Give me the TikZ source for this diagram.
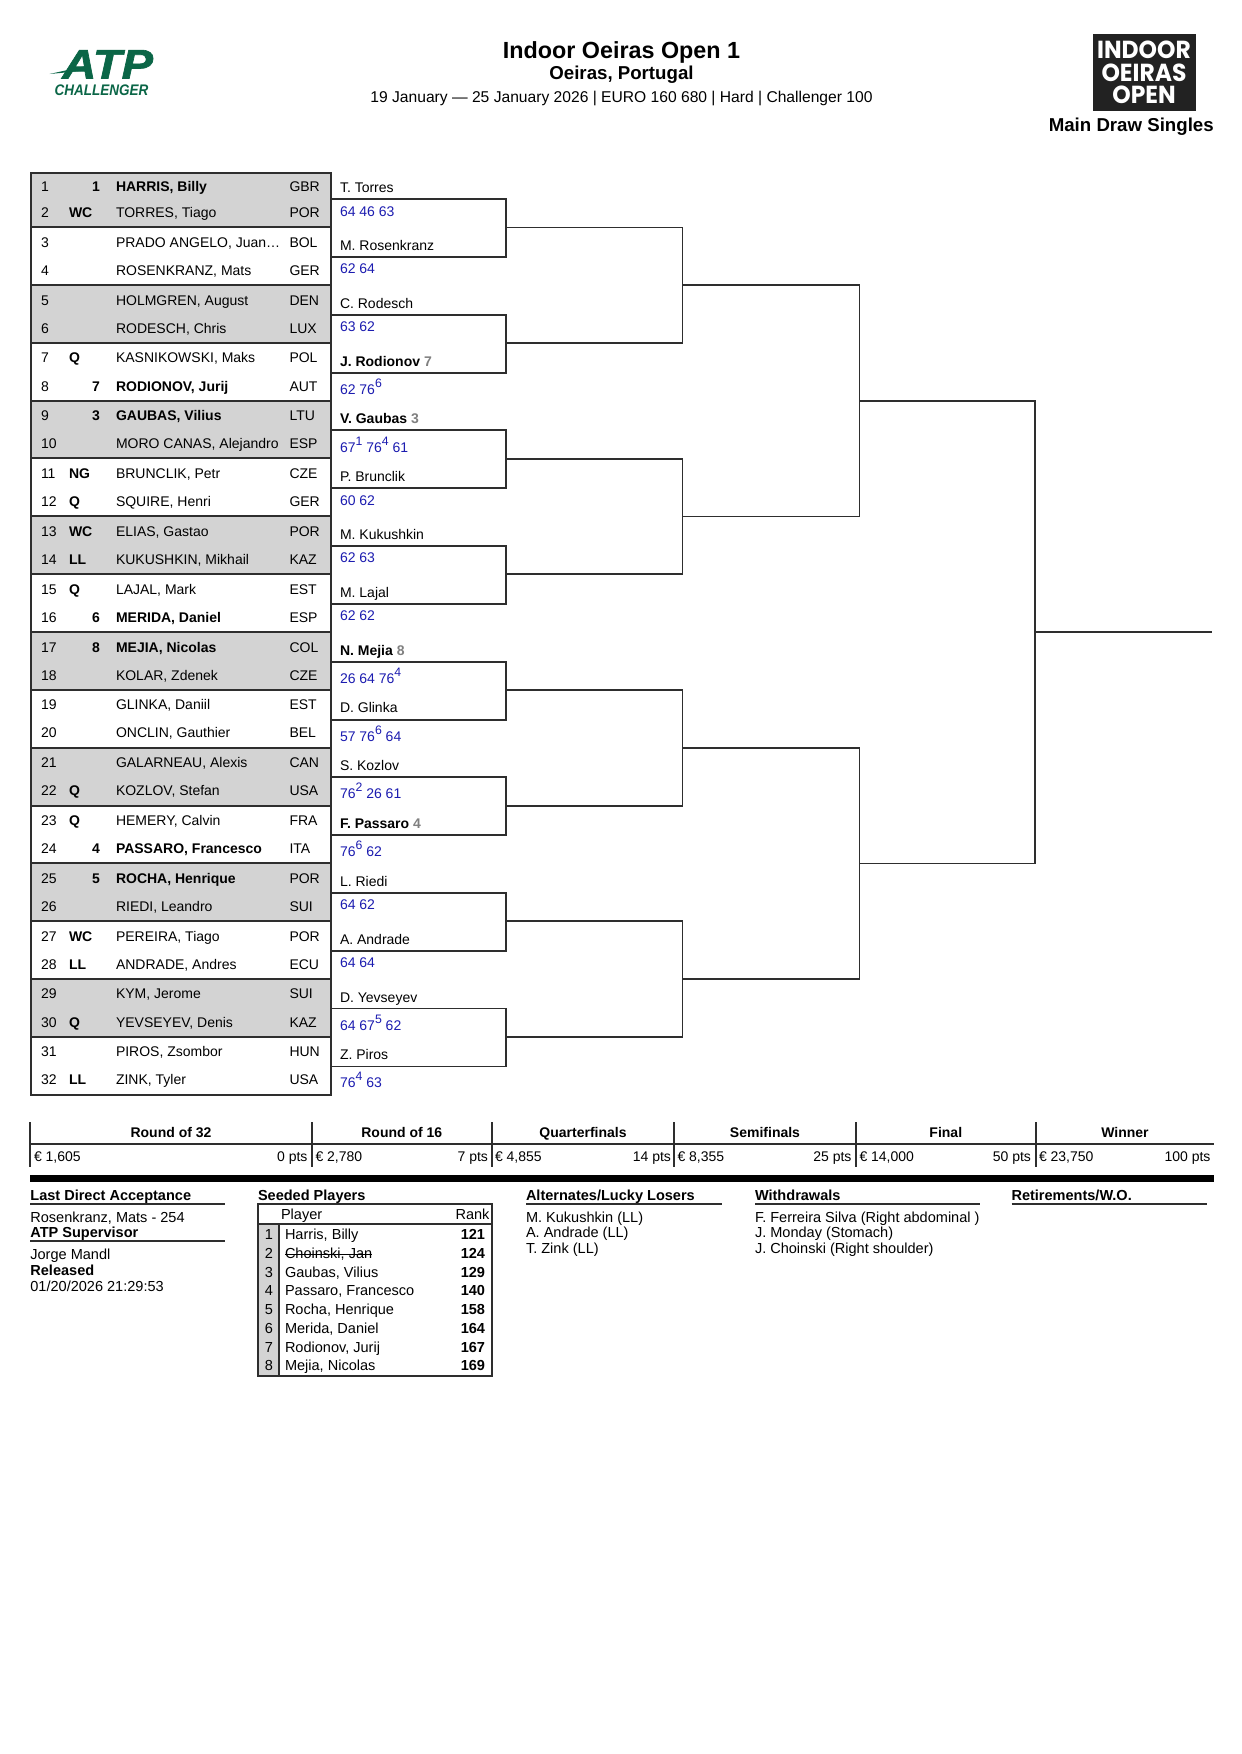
\documentclass[tikz,border=0pt]{standalone}
\usepackage{fontspec}
\setmainfont{Liberation Sans}
\newfontfamily\logofont{Poppins}
\newfontfamily\atpfont[BoldItalicFeatures={FakeBold=1.5}]{Liberation Sans}
\usetikzlibrary{calc}
\definecolor{rowgray}{HTML}{D3D3D3}
\definecolor{linedark}{HTML}{2E2E2E}
\definecolor{scoreblue}{HTML}{1C1CB0}
\definecolor{atpgreen}{HTML}{0B6647}
\definecolor{seedgray}{HTML}{808080}
\definecolor{logobg}{HTML}{222222}
\tikzset{
  txt/.style={inner sep=0pt,outer sep=0pt,font=\fontsize{10.5}{12}\selectfont,text=black},
  big/.style={inner sep=0pt,outer sep=0pt,font=\fontsize{10.9}{12}\selectfont,text=black},
  lw/.style={txt,anchor=base west,yshift=-3.75pt},
  lr/.style={txt,anchor=base east,yshift=-3.75pt},
  bw/.style={big,anchor=base west,yshift=-3.9pt},
  be/.style={big,anchor=base east,yshift=-3.9pt},
  bc/.style={big,anchor=base,yshift=-3.9pt},
  nameT/.style={txt,anchor=base west},
  scoreT/.style={txt,anchor=base west,text=scoreblue},
  bline/.style={draw=linedark,line width=1.35pt,line cap=rect},
  thin rule/.style={draw=linedark,line width=1.5pt},
  logotxt/.style={inner sep=0pt,text=white,xscale=.95,font=\logofont\bfseries\fontsize{18.5}{20}\selectfont},
}
\newcommand{\su}[1]{\raisebox{5.2pt}{\fontsize{9.2}{10}\selectfont #1}}
\newcommand{\sd}[1]{{\color{seedgray}#1}}
\newsavebox{\strbox}
\newcommand{\strk}[1]{\sbox{\strbox}{#1}\rlap{\usebox{\strbox}}\raisebox{0.27em}{\rule{\wd\strbox}{0.6pt}}}
\newcommand{\drow}[6]{%
  \node[lw] (num#2) at (41,#1) {#2};
  \if\relax\detokenize{#3}\relax\else\node[lw,font=\fontsize{10.5}{12}\selectfont\bfseries] (ent#2) at (69,#1) {#3};\fi
  \if\relax\detokenize{#4}\relax\else\node[lr,font=\fontsize{10.5}{12}\selectfont\bfseries] (seed#2) at (100,#1) {#4};\fi
  \node[lw] (name#2) at (116,#1) {#5};
  \node[lw] (ctry#2) at (289.5,#1) {#6};
}
\begin{document}
\begin{tikzpicture}[x=0.75pt,y=-0.75pt]
\useasboundingbox (0,0) rectangle (1242,1754);
\fill[white] (0,0) rectangle (1242,1754);
% header
\node[inner sep=0pt,anchor=base,font=\fontsize{17.5}{20}\selectfont\bfseries] (title) at (621.5,58.5) {Indoor Oeiras Open 1};
\node[inner sep=0pt,anchor=base,font=\fontsize{14}{16}\selectfont\bfseries] (place) at (621.5,79) {Oeiras, Portugal};
\node[inner sep=0pt,anchor=base,font=\fontsize{11.72}{15}\selectfont] (dates) at (621.5,102) {19 January — 25 January 2026 | EURO 160 680 | Hard | Challenger 100};
\node[inner sep=0pt,anchor=base east,font=\fontsize{14}{16}\selectfont\bfseries] (draw) at (1214,131) {Main Draw Singles};
% logos
\fill[logobg] (1093,33.5) rectangle (1196,110.7);
\node[logotxt] (l1) at (1144,49.5) {INDOOR};
\node[logotxt] (l2) at (1144,72.5) {OEIRAS};
\node[logotxt] (l3) at (1144,95) {OPEN};
\node[inner sep=0pt,anchor=base west,text=atpgreen,xscale=1.14,font=\atpfont\fontsize{31}{32}\selectfont\bfseries\itshape] (atp) at (62,78.5) {ATP};
\fill[atpgreen] (49.5,74) -- (88,65.5) -- (86,70.5) -- cycle;
\node[inner sep=0pt,anchor=base west,text=atpgreen,xscale=.88,font=\fontsize{11.5}{14}\selectfont\bfseries\itshape] (chal) at (54.5,95) {CHALLENGER};
% table fills
\fill[rowgray] (30.5,172.7) rectangle (331,227);
\foreach \k in {1,3,...,13}{
  \pgfmathsetmacro\ya{227+57.85*\k}
  \pgfmathsetmacro\yb{227+57.85*(\k+1)}
  \fill[rowgray] (30.5,\ya) rectangle (331,\yb);
}
\foreach \k in {0,...,14}{
  \pgfmathsetmacro\ya{227+57.85*\k}
  \draw[thin rule] (30.5,\ya) -- (331,\ya);
}
\draw[thin rule] (30.5,172.7) rectangle (331,1094.8);
% rows
\drow{186}{1}{}{1}{\bfseries HARRIS, Billy}{GBR}
\drow{212}{2}{WC}{}{TORRES, Tiago}{POR}
\drow{242}{3}{}{}{PRADO ANGELO, Juan…}{BOL}
\drow{270}{4}{}{}{ROSENKRANZ, Mats}{GER}
\drow{300}{5}{}{}{HOLMGREN, August}{DEN}
\drow{328}{6}{}{}{RODESCH, Chris}{LUX}
\drow{357}{7}{Q}{}{KASNIKOWSKI, Maks}{POL}
\drow{386}{8}{}{7}{\bfseries RODIONOV, Jurij}{AUT}
\drow{415}{9}{}{3}{\bfseries GAUBAS, Vilius}{LTU}
\drow{443}{10}{}{}{MORO CANAS, Alejandro}{ESP}
\drow{473}{11}{NG}{}{BRUNCLIK, Petr}{CZE}
\drow{501}{12}{Q}{}{SQUIRE, Henri}{GER}
\drow{531}{13}{WC}{}{ELIAS, Gastao}{POR}
\drow{559}{14}{LL}{}{KUKUSHKIN, Mikhail}{KAZ}
\drow{589}{15}{Q}{}{LAJAL, Mark}{EST}
\drow{617}{16}{}{6}{\bfseries MERIDA, Daniel}{ESP}
\drow{647}{17}{}{8}{\bfseries MEJIA, Nicolas}{COL}
\drow{675}{18}{}{}{KOLAR, Zdenek}{CZE}
\drow{704}{19}{}{}{GLINKA, Daniil}{EST}
\drow{732}{20}{}{}{ONCLIN, Gauthier}{BEL}
\drow{762}{21}{}{}{GALARNEAU, Alexis}{CAN}
\drow{790}{22}{Q}{}{KOZLOV, Stefan}{USA}
\drow{820}{23}{Q}{}{HEMERY, Calvin}{FRA}
\drow{848}{24}{}{4}{\bfseries PASSARO, Francesco}{ITA}
\drow{878}{25}{}{5}{\bfseries ROCHA, Henrique}{POR}
\drow{906}{26}{}{}{RIEDI, Leandro}{SUI}
\drow{936}{27}{WC}{}{PEREIRA, Tiago}{POR}
\drow{964}{28}{LL}{}{ANDRADE, Andres}{ECU}
\drow{993}{29}{}{}{KYM, Jerome}{SUI}
\drow{1022}{30}{Q}{}{YEVSEYEV, Denis}{KAZ}
\drow{1051}{31}{}{}{PIROS, Zsombor}{HUN}
\drow{1079}{32}{LL}{}{ZINK, Tyler}{USA}
% bracket coordinates and first-round boxes
\foreach \i in {0,...,7}{
  \pgfmathsetmacro\tt{199+115.65*\i}
  \pgfmathsetmacro\bb{\tt+58}
  \pgfmathsetmacro\mm{\tt+28.4}
  \coordinate (bt\i) at (331,\tt);
  \coordinate (btr\i) at (506,\tt);
  \coordinate (brb\i) at (506,\bb);
  \coordinate (bb\i) at (331,\bb);
  \coordinate (bm\i) at (506,\mm);
  \draw[bline] (bt\i) -- (btr\i) -- (brb\i) -- (bb\i);
}
\coordinate (c2) at (682.5,0);
\coordinate (c3) at (859.5,0);
\coordinate (c4) at (1034.8,0);
\coordinate (c5) at (1211,0);
\foreach \a/\c/\n in {0/1/0,2/3/1,4/5/2,6/7/3}{
  \draw[bline] (bm\a) -- (bm\a -| c2) -- (bm\c -| c2) -- (bm\c);
  \coordinate (sm\n) at ($(bm\a -| c2)!.5!(bm\c -| c2)$);
}
\foreach \a/\c/\n in {0/1/0,2/3/1}{
  \draw[bline] (sm\a) -- (sm\a -| c3) -- (sm\c -| c3) -- (sm\c);
  \coordinate (qm\n) at ($(sm\a -| c3)!.5!(sm\c -| c3)$);
}
\draw[bline] (qm0) -- (qm0 -| c4) -- (qm1 -| c4) -- (qm1);
\coordinate (fm) at ($(qm0 -| c4)!.5!(qm1 -| c4)$);
\draw[bline] (fm) -- (fm -| c5);
% winners and scores
\node[nameT] (w1) at (340,192) {T. Torres};
\node[scoreT] (s1) at (340,216) {64 46 63};
\node[nameT] (w2) at (340,250) {M. Rosenkranz};
\node[scoreT] (s2) at (340,273.5) {62 64};
\node[nameT] (w3) at (340,308.5) {C. Rodesch};
\node[scoreT] (s3) at (340,331.5) {63 62};
\node[nameT] (w4) at (340,366.5) {\textbf{J. Rodionov} \sd{\textbf{7}}};
\node[scoreT] (s4) at (340,394.5) {62 76\su{6}};
\node[nameT] (w5) at (340,423.5) {\textbf{V. Gaubas} \sd{\textbf{3}}};
\node[scoreT] (s5) at (340,452) {67\su{1} 76\su{4} 61};
\node[nameT] (w6) at (340,481.5) {P. Brunclik};
\node[scoreT] (s6) at (340,505) {60 62};
\node[nameT] (w7) at (340,539.5) {M. Kukushkin};
\node[scoreT] (s7) at (340,562.5) {62 63};
\node[nameT] (w8) at (340,597.5) {M. Lajal};
\node[scoreT] (s8) at (340,620.5) {62 62};
\node[nameT] (w9) at (340,655) {\textbf{N. Mejia} \sd{\textbf{8}}};
\node[scoreT] (s9) at (340,683.3) {26 64 76\su{4}};
\node[nameT] (w10) at (340,712.5) {D. Glinka};
\node[scoreT] (s10) at (340,741) {57 76\su{6} 64};
\node[nameT] (w11) at (340,770.5) {S. Kozlov};
\node[scoreT] (s11) at (340,798.5) {76\su{2} 26 61};
\node[nameT] (w12) at (340,828.5) {\textbf{F. Passaro} \sd{\textbf{4}}};
\node[scoreT] (s12) at (340,856.5) {76\su{6} 62};
\node[nameT] (w13) at (340,886.5) {L. Riedi};
\node[scoreT] (s13) at (340,909) {64 62};
\node[nameT] (w14) at (340,944) {A. Andrade};
\node[scoreT] (s14) at (340,967) {64 64};
\node[nameT] (w15) at (340,1002) {D. Yevseyev};
\node[scoreT] (s15) at (340,1030) {64 67\su{5} 62};
\node[nameT] (w16) at (340,1059.5) {Z. Piros};
\node[scoreT] (s16) at (340,1087.5) {76\su{4} 63};
% prize table
\draw[thin rule] (30.4,1144) -- (1214,1144);
\foreach \x in {30.4,311.9,491.7,674.4,855.7,1035.9}{
  \draw[thin rule] (\x,1122) -- (\x,1167);
}
\fill[black] (30.4,1175) rectangle (1214,1181.7);
\foreach \cx/\lab/\m in {171/Round of 32/r32,401.8/Round of 16/r16,583/Quarterfinals/qf,765/Semifinals/sf,945.8/Final/fin,1125/Winner/win}{
  \node[lw,anchor=base,font=\fontsize{10.5}{12}\selectfont\bfseries] (h\m) at (\cx,1132) {\lab};
}
\foreach \x/\lab/\rx/\p/\m in {34/€ 1{,}605/307.5/0 pts/a,315.5/€ 2{,}780/488/7 pts/b,495/€ 4{,}855/671/14 pts/c,677.5/€ 8{,}355/851.5/25 pts/d,859.5/€ 14{,}000/1031/50 pts/e,1039/€ 23{,}750/1210.5/100 pts/f}{
  \node[lw] (pm\m) at (\x,1156) {\lab};
  \node[lr] (pt\m) at (\rx,1156) {\p};
}
% lower section
\node[bw,font=\fontsize{10.9}{12}\selectfont\bfseries] (lda) at (30.4,1195) {Last Direct Acceptance};
\draw[thin rule] (30.4,1204) -- (225,1204);
\node[bw] (ldav) at (30.4,1217) {Rosenkranz, Mats - 254};
\node[bw,font=\fontsize{10.9}{12}\selectfont\bfseries] (sup) at (30.4,1232) {ATP Supervisor};
\draw[thin rule] (30.4,1241.3) -- (225,1241.3);
\node[bw] (supv) at (30.4,1254.5) {Jorge Mandl};
\node[bw,font=\fontsize{10.9}{12}\selectfont\bfseries] (rel) at (30.4,1270.5) {Released};
\node[bw] (relv) at (30.4,1286.5) {01/20/2026 21:29:53};
\node[bw,font=\fontsize{10.9}{12}\selectfont\bfseries] (seeded) at (258,1195) {Seeded Players};
\fill[rowgray] (258,1224) rectangle (279,1376);
\draw[thin rule] (258,1204) rectangle (492,1376);
\draw[thin rule] (258,1224) -- (492,1224);
\draw[thin rule] (279,1224) -- (279,1376);
\node[bw] (pl) at (281,1214) {Player};
\node[be] (rk) at (489.5,1214) {Rank};
\foreach \y/\n/\p/\rr in {1234/1/Harris{,} Billy/121,1253.3/2/\strk{Choinski{,} Jan}/124,1272/3/Gaubas{,} Vilius/129,1290.3/4/Passaro{,} Francesco/140,1309/5/Rocha{,} Henrique/158,1328/6/Merida{,} Daniel/164,1347/7/Rodionov{,} Jurij/167,1365/8/Mejia{,} Nicolas/169}{
  \node[bc] (sn\n) at (268.8,\y) {\n};
  \node[bw] (sp\n) at (285,\y) {\p};
  \node[be,font=\fontsize{10.9}{12}\selectfont\bfseries] (sr\n) at (485,\y) {\rr};
}
\node[bw,font=\fontsize{10.9}{12}\selectfont\bfseries] (alt) at (526,1195) {Alternates/Lucky Losers};
\draw[thin rule] (526,1204) -- (722,1204);
\node[bw] (a1) at (526,1217) {M. Kukushkin (LL)};
\node[bw] (a2) at (526,1232.3) {A. Andrade (LL)};
\node[bw] (a3) at (526,1248) {T. Zink (LL)};
\node[bw,font=\fontsize{10.9}{12}\selectfont\bfseries] (wd) at (755,1195) {Withdrawals};
\draw[thin rule] (755,1204) -- (980,1204);
\node[bw] (w-a) at (755,1217) {F. Ferreira Silva (Right abdominal )};
\node[bw] (w-b) at (755,1232.3) {J. Monday (Stomach)};
\node[bw] (w-c) at (755,1248) {J. Choinski (Right shoulder)};
\node[bw,font=\fontsize{10.9}{12}\selectfont\bfseries] (ret) at (1011.5,1195) {Retirements/W.O.};
\draw[thin rule] (1011.5,1204) -- (1206.5,1204);
\end{tikzpicture}
\end{document}
